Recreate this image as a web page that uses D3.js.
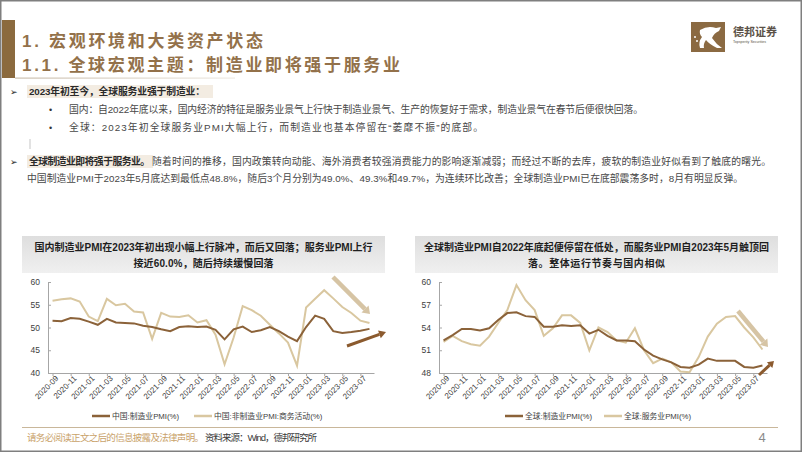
<!DOCTYPE html>
<html><head><meta charset="utf-8">
<script src="https://cdn.jsdelivr.net/npm/d3@7/dist/d3.min.js"></script>
<style>
html,body{margin:0;padding:0;background:#fff;}
svg{display:block;}
text{font-family:"Liberation Sans","Noto Sans CJK SC",sans-serif;}
</style></head>
<body>
<div id="chart"></div>
<script>
const months = ["2020-09","2020-10","2020-11","2020-12","2021-01","2021-02","2021-03","2021-04","2021-05","2021-06","2021-07","2021-08",
"2021-09","2021-10","2021-11","2021-12","2022-01","2022-02","2022-03","2022-04","2022-05","2022-06","2022-07","2022-08",
"2022-09","2022-10","2022-11","2022-12","2023-01","2023-02","2023-03","2023-04","2023-05","2023-06","2023-07","2023-08"];
const tickLabels = ["2020-09","2020-11","2021-01","2021-03","2021-05","2021-07","2021-09","2021-11","2022-01","2022-03","2022-05","2022-07","2022-09","2022-11","2023-01","2023-03","2023-05","2023-07"];

// China (left chart)
const cnMfg = [51.5,51.4,52.1,51.9,51.3,50.6,51.9,51.1,51.0,50.9,50.4,50.1,49.6,49.2,50.1,50.3,50.1,50.2,49.5,47.4,49.6,50.2,49.0,49.4,50.1,49.2,48.0,47.0,50.1,52.6,51.9,49.2,48.8,49.0,49.3,49.7];
const cnNonMfg = [55.9,56.2,56.4,55.7,52.4,51.4,56.3,54.9,55.2,53.5,53.3,47.5,53.2,52.4,52.3,52.7,51.1,51.6,48.4,41.9,47.8,54.7,53.8,52.6,50.6,48.7,46.7,41.6,54.4,56.3,58.2,56.4,54.5,53.2,51.5,51.0];
// Global (right chart)
const glMfg = [52.3,53.0,53.8,53.8,53.6,53.9,55.0,55.9,56.0,55.5,55.4,54.1,54.1,54.3,54.2,54.3,53.2,53.7,52.9,52.3,52.3,52.2,51.1,50.3,49.8,49.4,48.8,48.7,49.1,49.9,49.6,49.6,49.6,48.8,48.7,49.0];
const glSvc = [52.1,52.9,52.2,51.8,51.6,52.8,54.6,56.3,59.6,57.6,56.3,52.9,53.9,55.6,55.6,54.6,51.0,54.0,53.4,52.3,52.0,53.9,51.0,49.3,49.9,49.4,48.2,48.1,50.1,52.8,54.5,55.4,55.5,54.0,52.7,51.1];

const leftTicksY = [40,45,50,55,60];
const rightTicksY = [48,51,54,57,60];
const leftLegend = ["中国:制造业PMI(%)","中国:非制造业PMI:商务活动(%)"];
const rightLegend = ["全球:制造业PMI(%)","全球:服务业PMI(%)"];
const leftTitle = ["国内制造业PMI在2023年初出现小幅上行脉冲，而后又回落；服务业PMI上行","接近60.0%，随后持续缓慢回落"];
const rightTitle = ["全球制造业PMI自2022年底起便停留在低处，而服务业PMI自2023年5月触顶回","落。整体运行节奏与国内相似"];

const W=802,H=452;
const BROWN="#8B6239", BEIGE="#D9C7A0", TITLEC="#93714A";
const svg=d3.select("#chart").append("svg").attr("width",W).attr("height",H);
const defs=svg.append("defs");
const g1=defs.append("linearGradient").attr("id","boxg").attr("x1",0).attr("y1",0).attr("x2",0).attr("y2",1);
g1.append("stop").attr("offset","0%").attr("stop-color","#dedede");
g1.append("stop").attr("offset","100%").attr("stop-color","#f0f0f0");
const g2=defs.append("linearGradient").attr("id","ulg").attr("x1",0).attr("y1",0).attr("x2",1).attr("y2",0);
g2.append("stop").attr("offset","0%").attr("stop-color","#cbbfae");
g2.append("stop").attr("offset","100%").attr("stop-color","#efebe5");

svg.append("rect").attr("x",0).attr("y",0).attr("width",W).attr("height",H).attr("fill","#fff");

// frame
svg.append("rect").attr("x",0.75).attr("y",0.75).attr("width",W-1.5).attr("height",H-1.5).attr("fill","none").attr("stroke","#7f7f7f").attr("stroke-width",1.5);

// header
svg.append("rect").attr("x",2).attr("y",20).attr("width",13).attr("height",58).attr("fill","#8B6A3E");
svg.append("rect").attr("x",15).attr("y",77.5).attr("width",220).attr("height",1.2).attr("fill","url(#ulg)");
svg.append("text").attr("x",22).attr("y",47).attr("font-size",17).attr("font-weight","bold").attr("fill",TITLEC)
  .attr("textLength",241).attr("lengthAdjust","spacing").text("1. 宏观环境和大类资产状态");
svg.append("text").attr("x",22).attr("y",71).attr("font-size",17).attr("font-weight","bold").attr("fill",TITLEC)
  .attr("textLength",378).attr("lengthAdjust","spacing").text("1.1. 全球宏观主题：制造业即将强于服务业");

// logo
const logo=svg.append("g");
logo.append("rect").attr("x",691).attr("y",22).attr("width",34).attr("height",30).attr("fill","#8B6A42");
logo.append("path").attr("d","M700,30 Q708,25 716,28 L721,27 L719,31 Q714,33 712,38 Q716,44 722,48 L717,48 Q709,44 706,40 Q703,44 704,48 L700,48 Q698,42 702,37 Q699,34 700,30 Z").attr("fill","#fff");
logo.append("circle").attr("cx",695).attr("cy",37).attr("r",1).attr("fill","#fff");
logo.append("circle").attr("cx",697).attr("cy",41).attr("r",1).attr("fill","#fff");
logo.append("text").attr("x",733).attr("y",36).attr("font-size",11).attr("font-weight","bold").attr("fill","#5b5147").text("德邦证券");
logo.append("text").attr("x",733).attr("y",43).attr("font-size",3.6).attr("fill","#5b5147").text("Topsperity Securities");

// bullet text
const BODY="#474747";
function T(x,y,s,size,opts={}){
  const t=svg.append("text").attr("x",x).attr("y",y).attr("font-size",size).attr("fill",opts.fill||BODY).text(s);
  if(opts.bold) t.attr("font-weight","bold");
  if(opts.len) t.attr("textLength",opts.len).attr("lengthAdjust","spacing");
  if(opts.anchor) t.attr("text-anchor",opts.anchor);
  return t;
}
svg.append("rect").attr("x",27).attr("y",85).attr("width",186).attr("height",13).attr("fill","#F3ECE2");
T(10,95,"➢",9,{fill:"#222"});
T(29,95,"2023年初至今，全球服务业强于制造业：",9.8,{bold:true,fill:"#2a2a2a",len:176});
T(49,113,"•",9,{fill:"#333"});
T(69,113,"国内：自2022年底以来，国内经济的特征是服务业景气上行快于制造业景气、生产的恢复好于需求，制造业景气在春节后便很快回落。",9.8,{len:574});
T(49,131,"•",9,{fill:"#333"});
T(69,131,"全球：2023年初全球服务业PMI大幅上行，而制造业也基本停留在“萎靡不振”的底部。",9.8,{len:414});
svg.append("rect").attr("x",29).attr("y",139).attr("width",2).attr("height",10).attr("fill","#e2e2e2");
svg.append("rect").attr("x",27).attr("y",155).attr("width",126).attr("height",13).attr("fill","#F3ECE2");
T(10,165,"➢",9,{fill:"#222"});
T(29,165,"全球制造业即将强于服务业。",9.8,{bold:true,fill:"#2a2a2a",len:121});
T(152,165,"随着时间的推移，国内政策转向动能、海外消费者较强消费能力的影响逐渐减弱；而经过不断的去库，疲软的制造业好似看到了触底的曙光。",9.8,{len:619});
T(27,182,"中国制造业PMI于2023年5月底达到最低点48.8%，随后3个月分别为49.0%、49.3%和49.7%，为连续环比改善；全球制造业PMI已在底部震荡多时，8月有明显反弹。",9.8,{len:716});

// chart drawing
function drawChart(cfg){
  const {boxX,boxW,titles,titleLens,axisX,axisEnd,yDom,yTicks,s1,s2,legend,leg}=cfg;
  svg.append("rect").attr("x",boxX).attr("y",236).attr("width",boxW).attr("height",37).attr("fill","url(#boxg)");
  const cx=boxX+boxW/2;
  T(cx,251,titles[0],10,{bold:true,fill:"#1e1e1e",anchor:"middle",len:titleLens[0]});
  T(cx,267,titles[1],10,{bold:true,fill:"#1e1e1e",anchor:"middle",len:titleLens[1]});

  const x=d3.scalePoint().domain(months).range([axisX,axisEnd]).padding(0.5);
  const y=d3.scaleLinear().domain(yDom).range([373,282]);
  const gy=svg.append("g").attr("transform",`translate(${axisX},0)`)
    .call(d3.axisLeft(y).tickValues(yTicks).tickSize(-3).tickSizeOuter(0).tickPadding(8).tickFormat(d3.format("d")));
  gy.select(".domain").attr("stroke","#a6a6a6");
  gy.selectAll(".tick line").attr("stroke","#a6a6a6");
  gy.selectAll(".tick text").attr("font-size",8.5).attr("fill","#404040").attr("font-family","Liberation Sans, sans-serif");
  const gx=svg.append("g").attr("transform","translate(0,373)")
    .call(d3.axisBottom(x).tickValues(tickLabels).tickSize(3).tickSizeOuter(0));
  gx.select(".domain").attr("stroke","#a6a6a6");
  gx.selectAll(".tick line").attr("stroke","#a6a6a6");
  gx.selectAll(".tick text").attr("font-size",8).attr("fill","#404040").attr("font-family","Liberation Sans, sans-serif")
    .attr("text-anchor","end").attr("transform","translate(-1,-1) rotate(-45)").attr("dy","0.35em").attr("y",7).attr("x",0);

  const line=d3.line().x((d,i)=>x(months[i])).y(d=>y(d));
  svg.append("path").datum(s2).attr("d",line).attr("fill","none").attr("stroke",BEIGE).attr("stroke-width",2);
  svg.append("path").datum(s1).attr("d",line).attr("fill","none").attr("stroke",BROWN).attr("stroke-width",2);

  // legend
  const ly=416;
  svg.append("line").attr("x1",leg[0]).attr("x2",leg[0]+18).attr("y1",ly).attr("y2",ly).attr("stroke",BROWN).attr("stroke-width",2.5);
  T(leg[0]+20,ly+3,legend[0],7.8,{fill:"#404040"});
  svg.append("line").attr("x1",leg[1]).attr("x2",leg[1]+18).attr("y1",ly).attr("y2",ly).attr("stroke",BEIGE).attr("stroke-width",2.5);
  T(leg[1]+20,ly+3,legend[1],7.8,{fill:"#404040"});
}

drawChart({boxX:22,boxW:363,titles:leftTitle,titleLens:[338,140],axisX:48,axisEnd:374,yDom:[40,60],yTicks:leftTicksY,
  s1:cnMfg,s2:cnNonMfg,legend:leftLegend,leg:[92,194]});
drawChart({boxX:415,boxW:363,titles:rightTitle,titleLens:[345,137],axisX:439,axisEnd:767,yDom:[48,60],yTicks:rightTicksY,
  s1:glMfg,s2:glSvc,legend:rightLegend,leg:[505,604]});

// arrows
function arrow(x1,y1,x2,y2,w,color,hl,hw){
  const a=Math.atan2(y2-y1,x2-x1);
  const bx=x2-hl*Math.cos(a), by=y2-hl*Math.sin(a);
  svg.append("line").attr("x1",x1).attr("y1",y1).attr("x2",bx).attr("y2",by).attr("stroke",color).attr("stroke-width",w).attr("stroke-linecap","butt");
  const px=-Math.sin(a)*hw, py=Math.cos(a)*hw;
  svg.append("path").attr("d",`M${x2},${y2} L${bx+px},${by+py} L${bx-px},${by-py} Z`).attr("fill",color);
}
arrow(333,277,370,314,4.5,"#D6C4A4",7,5);
arrow(347,346,386,332,3,"#8B5A2E",7,4);
arrow(738,311,768,347,4.5,"#D6C4A4",7,5);
arrow(759,375,774,361,3,"#8B5A2E",6,4);

// footer
svg.append("line").attr("x1",22).attr("x2",778).attr("y1",427.5).attr("y2",427.5).attr("stroke","#c9b79a").attr("stroke-width",1);
T(27,441,"请务必阅读正文之后的信息披露及法律声明。",9.5,{fill:"#C9A26A",len:177});
T(205,441,"资料来源：Wind，德邦研究所",9.5,{fill:"#3a3a3a",len:112});
T(762,442,"4",13,{fill:"#8a8a8a",anchor:"middle"});
</script>
</body></html>
